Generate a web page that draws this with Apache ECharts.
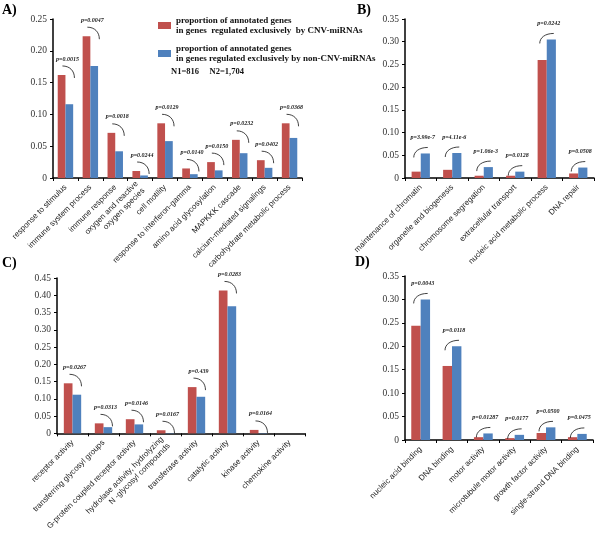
<!DOCTYPE html>
<html><head><meta charset="utf-8">
<script src="https://cdn.jsdelivr.net/npm/echarts@6/dist/echarts.min.js"></script>
<style>html,body{margin:0;padding:0;background:#fff}#c{width:600px;height:533px}</style>
</head><body><div id="c"></div>
<script>
// ---------- data ----------
const catsA = ['response to stimulus','immune system process','immune response','oxygen and reactive\noxygen species','cell motility','response to interferon-gamma','amino acid glycosylation','MAPKKK cascade','calcium-mediated signalings','carbohydrate metabolic process'];
const redA  = [0.162,0.223,0.071,0.011,0.086,0.015,0.025,0.060,0.028,0.086];
const blueA = [0.116,0.176,0.042,0.004,0.058,0.006,0.012,0.039,0.016,0.063];
const pA    = ['p=0.0015','p=0.0047','p=0.0018','p=0.0244','p=0.0129','p=0.0140','p=0.0150','p=0.0232','p=0.0402','p=0.0368'];

const catsB = ['maintenance of chromatin','organelle and biogenesis','chromosome segregation','extracellular transport','nucleic acid metabolic process','DNA repair'];
const redB  = [0.014,0.018,0.005,0.005,0.260,0.010];
const blueB = [0.054,0.055,0.024,0.014,0.305,0.023];
const pB    = ['p=3.99e-7','p=4.11e-6','p=1.06e-3','p=0.0128','p=0.0242','p=0.0508'];

const catsC = ['receptor activity','transferring glycosyl groups','G-protein coupled receptor activity','hydrolase activity, hydrolyzing\nN -glycosyl compounds','transferase activity','catalytic activity','kinase activity','chemokine activity'];
const redC  = [0.145,0.029,0.041,0.009,0.134,0.414,0.010,0];
const blueC = [0.112,0.018,0.026,0.001,0.106,0.368,0.001,0];
const pC    = ['p=0.0267','p=0.0313','p=0.0146','p=0.0167','p=0.439','p=0.0283','p=0.0164',null];

const catsD = ['nucleic acid binding','DNA binding','motor activity','microtubule motor activity','growth factor activity','single-strand DNA binding'];
const redD  = [0.244,0.158,0.006,0.004,0.015,0.006];
const blueD = [0.300,0.200,0.014,0.011,0.027,0.013];
const pD    = ['p=0.0043','p=0.0118','p=0.01287','p=0.0177','p=0.0500','p=0.0475'];

const yMax = [0.25, 0.35, 0.45, 0.35];

const nameRed  = 'proportion of annotated genes\nin genes  regulated exclusively  by CNV-miRNAs';
const nameBlue = 'proportion of annotated genes\nin genes regulated exclusively by non-CNV-miRNAs';

// ---------- chart ----------
const RED = '#C0504D', BLUE = '#4F81BD';
const serif = '"Liberation Serif","DejaVu Serif",serif';
const sans = '"Liberation Sans",Arial,sans-serif';

const grids = [
  {left:53, top:19, width:249, height:159},
  {left:405, top:19, width:189, height:159},
  {left:57, top:278, width:248, height:160},
  {left:405, top:276, width:188, height:164}
];
const gaps = ['38%','42%','44%','40%'];
const cats = [catsA,catsB,catsC,catsD];
const reds = [redA,redB,redC,redD];
const blues = [blueA,blueB,blueC,blueD];
const ps = [pA,pB,pC,pD];

const xAxis = cats.map((c,i)=>({
  type:'category', gridIndex:i, data:c,
  axisLine:{lineStyle:{color:'#000',width:1.5}},
  axisTick:{show:true,length:3,lineStyle:{color:'#000',width:1}},
  axisLabel:{interval:0, rotate:45, fontFamily:sans, fontSize:8, color:'#222', margin:8, lineHeight:9.5}
}));
const yAxis = yMax.map((m,i)=>({
  type:'value', gridIndex:i, min:0, max:m, interval:0.05,
  splitLine:{show:false},
  axisLine:{show:true,lineStyle:{color:'#000',width:1.5}},
  axisTick:{show:true,length:3,lineStyle:{color:'#000',width:1}},
  axisLabel:{fontFamily:serif, fontSize:9.5, color:'#333', margin:6,
    formatter:v=> v===0 ? '0' : v.toFixed(2)}
}));

const series = [];
for (let i=0;i<4;i++){
  series.push({type:'bar', name:nameRed, xAxisIndex:i, yAxisIndex:i, data:reds[i],
    itemStyle:{color:RED}, barGap:'0%', barCategoryGap:gaps[i], animation:false});
  series.push({type:'bar', name:nameBlue, xAxisIndex:i, yAxisIndex:i, data:blues[i],
    itemStyle:{color:BLUE}, barGap:'0%', barCategoryGap:gaps[i], animation:false});
  const arr = [];
  cats[i].forEach((c,k)=>{ if (ps[i][k]) arr.push([k, reds[i][k], blues[i][k]]); });
  const plist = ps[i];
  series.push({type:'custom', xAxisIndex:i, yAxisIndex:i, data:arr, encode:{x:0,y:1}, silent:true, animation:false, z:5,
    renderItem:(params, api)=>{
      const k = api.value(0), r = api.value(1), b = api.value(2);
      const hi = Math.max(r,b);
      const cx = api.coord([k,0])[0];
      const top = api.coord([k,hi])[1];
      let S,E,c1,c2;
      if (r >= b){
        S=[cx-3, top-9]; E=[cx+9, top+3];
        c1=[S[0]+(E[0]-S[0])*0.6, S[1]]; c2=[E[0], S[1]+(E[1]-S[1])*0.4];
      } else {
        S=[cx-7, top+4]; E=[cx+7, top-6];
        c1=[S[0], S[1]-(S[1]-E[1])*0.6]; c2=[S[0]+(E[0]-S[0])*0.4, E[1]];
      }
      return {type:'group', children:[
        {type:'bezierCurve', shape:{x1:S[0],y1:S[1],x2:E[0],y2:E[1],cpx1:c1[0],cpy1:c1[1],cpx2:c2[0],cpy2:c2[1]},
          style:{stroke:'#111', fill:null, lineWidth:0.8}},
        {type:'text', style:{text:plist[k], x:cx+2, y:top-13, align:'center', verticalAlign:'bottom',
          font:'italic bold 6px '+serif, fill:'#222'}}
      ]};
    }
  });
}

const chart = echarts.init(document.getElementById('c'), null, {renderer:'canvas'});
chart.setOption({
  animation:false,
  backgroundColor:'#fff',
  grid:grids,
  xAxis:xAxis, yAxis:yAxis, series:series,
  legend:{
    data:[nameRed,nameBlue], orient:'vertical', left:153, top:10, itemGap:7,
    itemWidth:13, itemHeight:7, icon:'rect', selectedMode:false,
    textStyle:{fontFamily:serif, fontWeight:'bold', fontSize:9, color:'#111', lineHeight:10.5}
  },
  graphic:[
    {type:'text', left:171, top:67, style:{text:'N1=816     N2=1,704', font:'bold 8.5px '+serif, fill:'#111'}},
    {type:'text', left:2, top:3, style:{text:'A)', font:'bold 14px '+serif, fill:'#000'}},
    {type:'text', left:357, top:3, style:{text:'B)', font:'bold 14px '+serif, fill:'#000'}},
    {type:'text', left:2, top:256, style:{text:'C)', font:'bold 14px '+serif, fill:'#000'}},
    {type:'text', left:355, top:255, style:{text:'D)', font:'bold 14px '+serif, fill:'#000'}}
  ]
});
</script></body></html>
